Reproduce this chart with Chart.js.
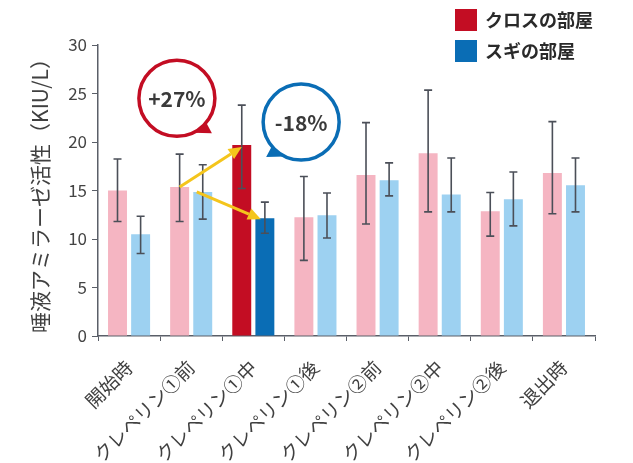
<!DOCTYPE html>
<html><head><meta charset="utf-8">
<script src="https://cdn.jsdelivr.net/npm/chart.js@4.4.0/dist/chart.umd.min.js"></script>
<style>html,body{margin:0;padding:0;background:#fff}#wrap{width:633px;height:463px;position:relative}</style>
</head><body><div id="wrap"><canvas id="c" width="633" height="463"></canvas></div>
<script>
const categories = ["開始時","クレペリン①前","クレペリン①中","クレペリン①後","クレペリン②前","クレペリン②中","クレペリン②後","退出時"];
const seriesNames = ["クロスの部屋","スギの部屋"];
const crossValues = [15.0, 15.35, 19.7, 12.25, 16.6, 18.85, 12.85, 16.8];
const crossUpper  = [18.25, 18.75, 23.8, 16.45, 22.0, 25.35, 14.8, 22.1];
const crossLower  = [11.8, 11.8, 15.2, 7.8, 11.55, 12.8, 10.3, 12.6];
const sugiValues  = [10.5, 14.85, 12.15, 12.45, 16.05, 14.6, 14.1, 15.55];
const sugiUpper   = [12.35, 17.65, 13.8, 14.75, 17.85, 18.35, 16.9, 18.35];
const sugiLower   = [8.5, 12.05, 10.6, 10.1, 14.45, 12.8, 11.35, 12.8];
const yTicks = [0,5,10,15,20,25,30];
const highlightIndex = 2;
const callouts = [
  {text:"+27%", color:"#C30D23", cat:1, dx:-0.23, y:24.5, tail:"right"},
  {text:"-18%", color:"#0A6DB5", cat:2, dx:0.77, y:22.05, tail:"left"}
];

const PINK="#F5B5C2", LBLUE="#9DD1F1", RED="#C30D23", DBLUE="#0A6DB5";
const FONT = "'Noto Sans CJK JP','Noto Sans',sans-serif";

const errorBars = {
  id:'errorBars',
  afterDatasetsDraw(chart){
    const ctx=chart.ctx, y=chart.scales.y;
    const sets=[[crossUpper,crossLower],[sugiUpper,sugiLower]];
    ctx.save();
    ctx.strokeStyle="#4B4F58"; ctx.lineWidth=1.6;
    sets.forEach((s,di)=>{
      chart.getDatasetMeta(di).data.forEach((bar,i)=>{
        const x=bar.x, yt=y.getPixelForValue(s[0][i]), yb=y.getPixelForValue(s[1][i]);
        ctx.beginPath();
        ctx.moveTo(x,yt);ctx.lineTo(x,yb);
        ctx.moveTo(x-4,yt);ctx.lineTo(x+4,yt);
        ctx.moveTo(x-4,yb);ctx.lineTo(x+4,yb);
        ctx.stroke();
      });
    });
    ctx.restore();
  }
};

function arrow(ctx,x1,y1,x2,y2){
  const ang=Math.atan2(y2-y1,x2-x1), hl=13, hw=6;
  const bx=x2-hl*Math.cos(ang), by=y2-hl*Math.sin(ang);
  ctx.beginPath();ctx.moveTo(x1,y1);ctx.lineTo(bx,by);ctx.stroke();
  ctx.beginPath();
  ctx.moveTo(x2,y2);
  ctx.lineTo(bx+hw*Math.sin(ang),by-hw*Math.cos(ang));
  ctx.lineTo(bx-hw*Math.sin(ang),by+hw*Math.cos(ang));
  ctx.closePath();ctx.fill();
}

const annotations = {
  id:'annotations',
  afterDraw(chart){
    const ctx=chart.ctx, xs=chart.scales.x, ys=chart.scales.y;
    const m0=chart.getDatasetMeta(0).data, m1=chart.getDatasetMeta(1).data;
    const cw=xs.width/categories.length;
    ctx.save();
    ctx.strokeStyle="#F4C51C"; ctx.fillStyle="#F4C51C"; ctx.lineWidth=3;
    const h=highlightIndex;
    arrow(ctx,m0[h-1].x,ys.getPixelForValue(crossValues[h-1]),m0[h].x,ys.getPixelForValue(crossValues[h])+2);
    arrow(ctx,m1[h-1].x-6,ys.getPixelForValue(sugiValues[h-1]),m1[h].x-4,ys.getPixelForValue(sugiValues[h])+1);
    callouts.forEach(c=>{
      const cx=xs.getPixelForValue(c.cat)+c.dx*cw, cy=ys.getPixelForValue(c.y), r=38;
      ctx.fillStyle="#fff"; ctx.strokeStyle=c.color; ctx.lineWidth=3.5;
      ctx.beginPath();ctx.arc(cx,cy,r,0,Math.PI*2);ctx.fill();ctx.stroke();
      ctx.fillStyle=c.color;
      ctx.beginPath();
      if(c.tail==="right"){
        const a1=Math.PI*0.22, a2=Math.PI*0.36;
        ctx.moveTo(cx+r*Math.cos(a1),cy+r*Math.sin(a1));
        ctx.lineTo(cx+35,cy+35);
        ctx.lineTo(cx+r*Math.cos(a2),cy+r*Math.sin(a2));
      } else {
        const a1=Math.PI*0.64, a2=Math.PI*0.78;
        ctx.moveTo(cx+r*Math.cos(a1),cy+r*Math.sin(a1));
        ctx.lineTo(cx-35,cy+35);
        ctx.lineTo(cx+r*Math.cos(a2),cy+r*Math.sin(a2));
      }
      ctx.closePath();ctx.fill();
      ctx.fillStyle="#3a3a3a"; ctx.font="bold 21px "+FONT;
      ctx.textAlign="center"; ctx.textBaseline="middle";
      ctx.fillText(c.text,cx,cy+1);
    });
    const lx=455, ly=9;
    [RED,DBLUE].forEach((col,i)=>{
      ctx.fillStyle=col; ctx.fillRect(lx,ly+i*31,22,22);
      ctx.fillStyle="#2a2a2a"; ctx.font="bold 18px "+FONT;
      ctx.textAlign="left"; ctx.textBaseline="middle";
      ctx.fillText(seriesNames[i],lx+30,ly+i*31+11);
    });
    ctx.restore();
  }
};

new Chart(document.getElementById('c'),{
  type:'bar',
  data:{
    labels:categories,
    datasets:[
      {label:seriesNames[0],data:crossValues,backgroundColor:crossValues.map((v,i)=>i===highlightIndex?RED:PINK),barPercentage:0.82,categoryPercentage:0.744},
      {label:seriesNames[1],data:sugiValues,backgroundColor:sugiValues.map((v,i)=>i===highlightIndex?DBLUE:LBLUE),barPercentage:0.82,categoryPercentage:0.744}
    ]
  },
  options:{
    responsive:false, animation:false,
    layout:{padding:{left:0,right:38,top:45,bottom:0}},
    plugins:{legend:{display:false},tooltip:{enabled:false}},
    scales:{
      x:{
        grid:{display:true,drawOnChartArea:false,drawTicks:true,tickLength:5,color:"#5A5F68",offset:true},
        border:{display:true,color:"#5A5F68",width:1.5},
        ticks:{color:"#404040",font:{family:FONT,size:19},minRotation:45,maxRotation:45,autoSkip:false,padding:15},
        afterFit(s){s.height=127;}
      },
      y:{
        min:0,max:30,
        afterBuildTicks(s){s.ticks=yTicks.map(v=>({value:v}));},
        grid:{display:true,drawOnChartArea:false,drawTicks:true,tickLength:6,color:"#5A5F68"},
        border:{display:true,color:"#5A5F68",width:1.5},
        ticks:{color:"#444",font:{family:FONT,size:17},padding:5},
        title:{display:true,text:"唾液アミラーゼ活性（KIU/L）",color:"#404040",font:{family:FONT,size:21},padding:{top:27,bottom:0}},
        afterFit(s){s.width=98;}
      }
    }
  },
  plugins:[errorBars,annotations]
});
</script></body></html>
